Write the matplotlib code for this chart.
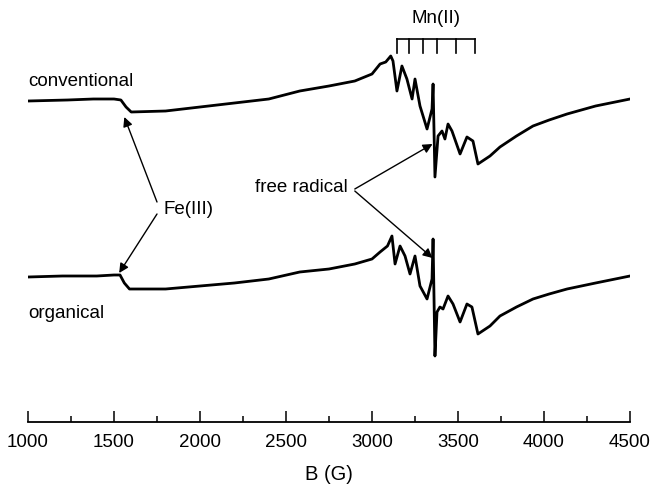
import matplotlib
matplotlib.use("Agg")
import matplotlib.pyplot as plt
from matplotlib.ticker import MultipleLocator

plt.rcParams['font.family'] = ['Liberation Sans', 'DejaVu Sans']

# Magnetic field (G) and EPR intensity (arbitrary units)
B_conv = [1000, 1230, 1380, 1500, 1540, 1570, 1600, 1800, 2000, 2200, 2400, 2580,
          2750, 2900, 3000, 3047, 3080, 3109, 3122, 3145, 3174, 3203, 3233, 3250,
          3279, 3320, 3349, 3355, 3366, 3384, 3407, 3424, 3442, 3465, 3512, 3552,
          3587, 3616, 3686, 3744, 3840, 3936, 4030, 4134, 4300, 4500]
I_conv = [98, 99, 100, 100, 99, 92, 87, 88, 92, 96, 100, 108,
          113, 118, 125, 135, 137, 143, 138, 108, 133, 120, 100, 120,
          93, 70, 90, 115, 22, 63, 68, 60, 75, 68, 45, 62,
          58, 35, 43, 52, 63, 73, 79, 85, 93, 100]

B_org = [1000, 1200, 1400, 1500, 1535, 1560, 1590, 1800, 2000, 2200, 2400, 2580,
         2750, 2900, 3000, 3047, 3090, 3116, 3134, 3163, 3192, 3221, 3250, 3279,
         3320, 3349, 3355, 3366, 3378, 3395, 3413, 3442, 3471, 3512, 3552, 3581,
         3616, 3686, 3744, 3840, 3936, 4030, 4134, 4300, 4500]
I_org = [-78, -77, -77, -76, -76, -84, -90, -90, -87, -84, -80, -73,
         -70, -65, -60, -53, -47, -37, -65, -47, -57, -75, -57, -87,
         -100, -80, -40, -157, -113, -108, -110, -97, -105, -123, -105, -108,
         -135, -127, -117, -108, -100, -95, -90, -84, -77]

# Mn(II) hyperfine stick positions (G)
mn_lines = [3144, 3217, 3298, 3380, 3488, 3599]

fig = plt.figure(figsize=(6.54, 4.89), dpi=100)
ax = fig.add_axes([28/654, 1 - 423/489, (630-28)/654, 423/489])

ax.plot(B_conv, I_conv, color='black', lw=2.0, solid_joinstyle='round')
ax.plot(B_org, I_org, color='black', lw=2.0, solid_joinstyle='round')

ax.set_xlim(1000, 4500)
ax.set_ylim(-223, 200)
for s in ['top', 'left', 'right']:
    ax.spines[s].set_visible(False)
ax.spines['bottom'].set_linewidth(1.3)
ax.set_yticks([])
ax.xaxis.set_major_locator(MultipleLocator(500))
ax.xaxis.set_minor_locator(MultipleLocator(250))
ax.tick_params(axis='x', which='major', direction='in', length=8, width=1.1,
               labelsize=13.5, pad=8)
ax.tick_params(axis='x', which='minor', direction='in', length=4, width=1.1)
ax.set_xlabel('B (G)', fontsize=14.5, labelpad=10)

# Mn(II) stick diagram
ax.plot([mn_lines[0], mn_lines[-1]], [160, 160], color='black', lw=1.2)
for b in mn_lines:
    ax.plot([b, b], [160, 146], color='black', lw=1.2)
ax.text((mn_lines[0] + mn_lines[-1]) / 2, 182, 'Mn(II)', ha='center', va='center', fontsize=13.5)

ax.text(1000, 118, 'conventional', ha='left', va='center', fontsize=13.5)
ax.text(1000, -113, 'organical', ha='left', va='center', fontsize=13.5)

arrow = dict(arrowstyle='-|>', color='black', lw=1.0, mutation_scale=14, shrinkA=0, shrinkB=0)
ax.annotate('', xy=(1560, 82), xytext=(1750, -3), arrowprops=arrow)
ax.annotate('', xy=(1530, -74), xytext=(1750, -15), arrowprops=arrow)
ax.text(1785, -10, 'Fe(III)', ha='left', va='center', fontsize=13.5)

ax.annotate('', xy=(3352, 55), xytext=(2900, 10), arrowprops=arrow)
ax.annotate('', xy=(3352, -59), xytext=(2900, 8), arrowprops=arrow)
ax.text(2860, 12, 'free radical', ha='right', va='center', fontsize=13.5)

fig.savefig('out.png', dpi=100)
